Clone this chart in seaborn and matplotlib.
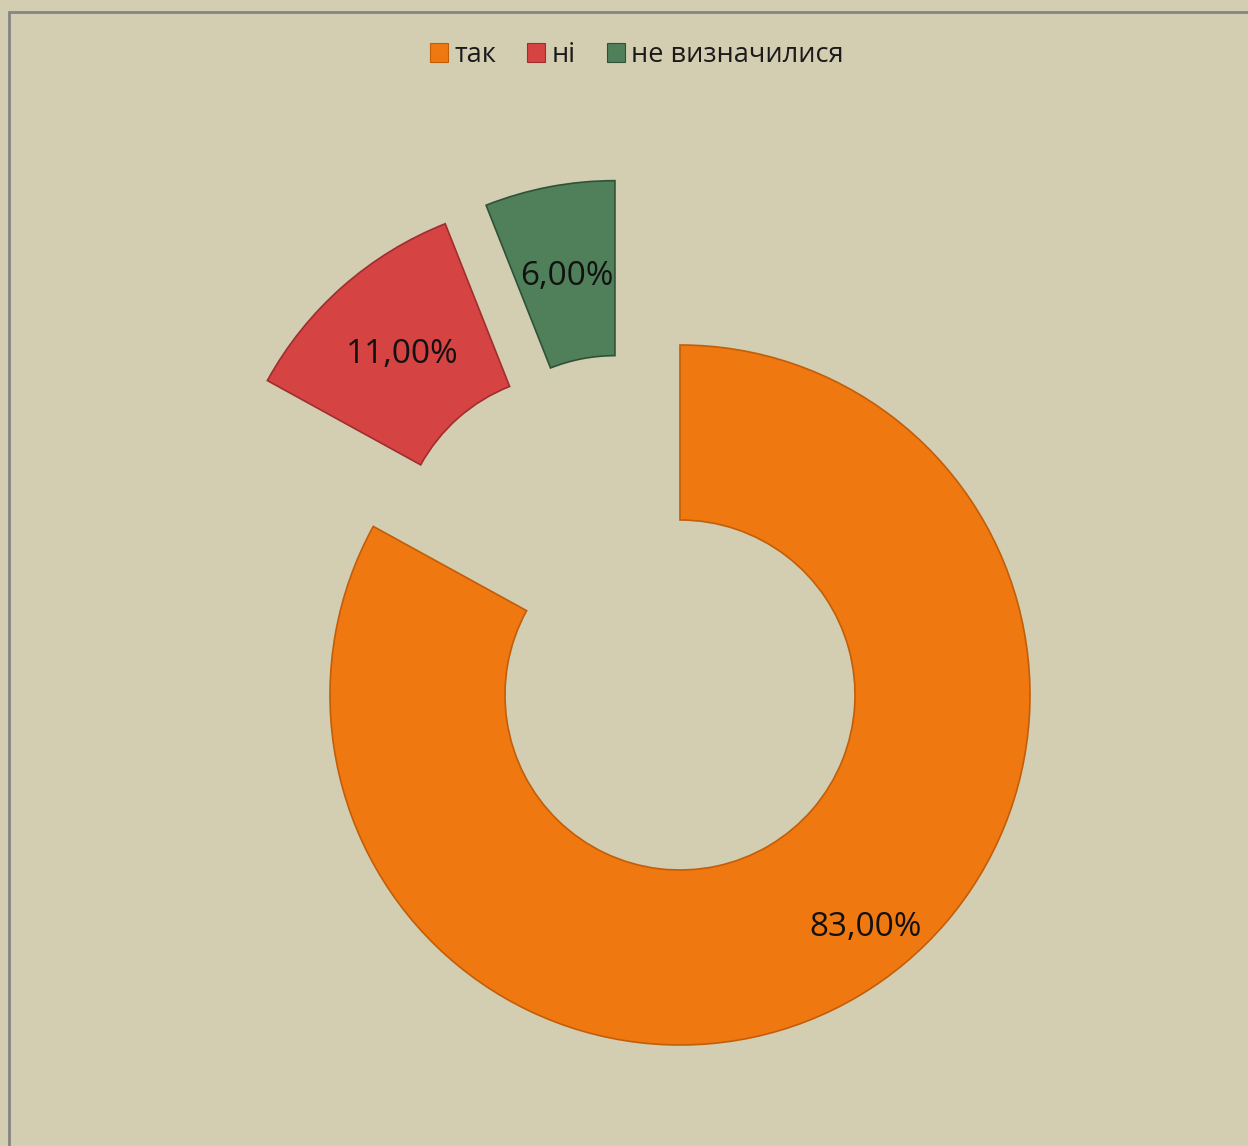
import matplotlib
matplotlib.use("Agg")
import matplotlib.pyplot as plt
import numpy as np
import seaborn as sns
from matplotlib.patches import Rectangle, Patch

# Survey answers and their shares (%)
categories = ["так", "ні", "не визначилися"]
shares = [83.0, 11.0, 6.0]
colors = ["#F07810", "#D54343", "#4F805A"]
edge_colors = ["#C25E08", "#A02E2E", "#2E5236"]

sns.set_theme(style="white")
plt.rcParams["font.family"] = ["Open Sans", "DejaVu Sans"]

W, H, DPI = 1248, 1146, 100
bg = "#D3CDB2"
fig = plt.figure(figsize=(W / DPI, H / DPI), dpi=DPI, facecolor=bg)
ax = fig.add_axes([0, 0, 1, 1])
ax.set_facecolor(bg)

# Donut: first slice starts at 12 o'clock and runs clockwise; the two
# smaller slices are pulled out of the ring.
explode = [0.0, 0.515, 0.505]
explode_tilt = [0.0, -5.4, 10.8]   # degrees off the slice bisector
wedges, _ = ax.pie(
    shares,
    colors=colors,
    startangle=90,
    counterclock=False,
    explode=explode,
    radius=1.0,
    wedgeprops=dict(width=0.5, linewidth=1.2),
)
for w, ec, ex, tilt in zip(wedges, edge_colors, explode, explode_tilt):
    w.set_edgecolor(ec)
    if ex:
        ang = np.deg2rad((w.theta1 + w.theta2) / 2 + tilt)
        w.set_center((ex * np.cos(ang), ex * np.sin(ang)))

# Percentage labels in the middle of each ring segment
for w, val in zip(wedges, shares):
    mid = np.deg2rad((w.theta1 + w.theta2) / 2)
    cx, cy = w.center
    r = 0.74
    if val == max(shares):
        r, mid = 0.85, mid + np.deg2rad(8)
    ax.text(cx + r * np.cos(mid), cy + r * np.sin(mid),
            f"{val:.2f}%".replace(".", ","),
            ha="center", va="center", fontsize=24, color="#111111")

# Pixel-aligned view: ring centre near (680, 695) px, radius 350 px
R = 350.0
ax.set_xlim(-680 / R, (W - 680) / R)
ax.set_ylim(-(H - 695) / R, 695 / R)
ax.set_aspect("auto")
ax.axis("off")

handles = [Patch(facecolor=c, edgecolor=e, linewidth=0.8)
           for c, e in zip(colors, edge_colors)]
leg = fig.legend(handles, categories, loc="center",
                 bbox_to_anchor=(637 / W, 1 - 55 / H),
                 ncol=3, frameon=False, fontsize=19.5, handlelength=0.65,
                 handleheight=0.65, handletextpad=0.25, columnspacing=1.15)
for t in leg.get_texts():
    t.set_color("#1A1A1A")

# Chart frame
fig.patches.append(Rectangle((9 / W, -0.01), 1.1, 1 - 12 / H + 0.01,
                             transform=fig.transFigure, fill=False,
                             edgecolor="#858585", linewidth=2))

fig.savefig("out.png", dpi=DPI, facecolor=bg)
